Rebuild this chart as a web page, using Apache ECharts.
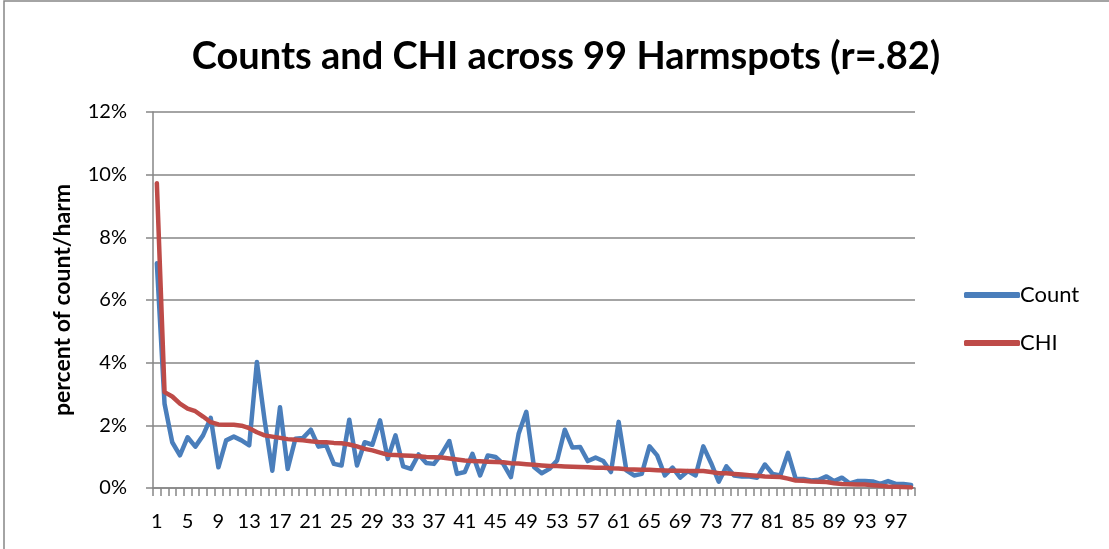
<!DOCTYPE html>
<html>
<head>
<meta charset="utf-8">
<script src="https://cdn.jsdelivr.net/npm/echarts@6/dist/echarts.min.js"></script>
<style>
  html, body { margin: 0; padding: 0; background: #fff; }
  #chart { width: 1109px; height: 549px; }
</style>
</head>
<body>
<div id="chart"></div>
<script>
// harmspot rank 1..99
var harmspots = []
for (var i = 1; i <= 99; i++) harmspots.push(String(i))

// percent of count per harmspot
var countPct = [
  7.17, 2.69, 1.46, 1.04, 1.62, 1.32, 1.68, 2.24, 0.66, 1.52,
  1.64, 1.52, 1.36, 4.02, 2.16, 0.55, 2.58, 0.61, 1.57, 1.6,
  1.86, 1.32, 1.36, 0.77, 0.72, 2.18, 0.72, 1.46, 1.38, 2.16,
  0.93, 1.68, 0.69, 0.61, 1.07, 0.8, 0.77, 1.09, 1.5, 0.45,
  0.51, 1.09, 0.4, 1.04, 0.99, 0.77, 0.35, 1.73, 2.43, 0.67,
  0.47, 0.61, 0.88, 1.86, 1.29, 1.31, 0.86, 0.97, 0.86, 0.51,
  2.11, 0.56, 0.4, 0.45, 1.33, 1.04, 0.4, 0.65, 0.33, 0.54,
  0.4, 1.33, 0.8, 0.2, 0.69, 0.4, 0.37, 0.37, 0.33, 0.75,
  0.45, 0.4, 1.12, 0.29, 0.29, 0.24, 0.26, 0.37, 0.22, 0.33,
  0.15, 0.22, 0.22, 0.21, 0.13, 0.22, 0.13, 0.13, 0.1
]

// percent of CHI (harm) per harmspot
var chiPct = [
  9.73, 3.06, 2.92, 2.69, 2.53, 2.45, 2.28, 2.1, 2.03, 2.02,
  2.02, 1.99, 1.91, 1.78, 1.68, 1.64, 1.6, 1.56, 1.54, 1.52,
  1.49, 1.47, 1.46, 1.44, 1.43, 1.39, 1.33, 1.25, 1.2, 1.13,
  1.06, 1.05, 1.04, 1.03, 1.01, 0.99, 0.98, 0.97, 0.94, 0.91,
  0.88, 0.86, 0.85, 0.84, 0.83, 0.82, 0.79, 0.78, 0.76, 0.74,
  0.72, 0.7, 0.7, 0.69, 0.68, 0.67, 0.66, 0.65, 0.65, 0.63,
  0.62, 0.6, 0.59, 0.58, 0.58, 0.57, 0.56, 0.55, 0.55, 0.54,
  0.54, 0.54, 0.51, 0.47, 0.47, 0.45, 0.43, 0.41, 0.39, 0.37,
  0.36, 0.35, 0.3, 0.24, 0.23, 0.21, 0.2, 0.19, 0.15, 0.13,
  0.12, 0.11, 0.11, 0.09, 0.07, 0.05, 0.04, 0.03, 0.02
]

var chart = echarts.init(document.getElementById('chart'))

chart.setOption({
  animation: false,
  textStyle: { fontFamily: 'Lato' },
  title: {
    text: 'Counts and CHI across 99 Harmspots (r=.82)',
    left: 561,
    top: 33,
    textAlign: 'center',
    textStyle: { fontFamily: 'Lato', fontWeight: 'bold', fontSize: 38, color: '#000' }
  },
  legend: {
    orient: 'vertical',
    left: 959,
    top: 279,
    itemGap: 26,
    itemWidth: 56,
    itemHeight: 6,
    icon: 'roundRect',
    textStyle: { fontFamily: 'Lato', fontSize: 22, color: '#000', padding: [0, 0, 0, -5] },
    data: ['Count', 'CHI']
  },
  grid: { left: 153, top: 112, right: 194, bottom: 61, containLabel: false },
  xAxis: {
    type: 'category',
    data: harmspots,
    boundaryGap: true,
    axisLine: { lineStyle: { color: '#868686', width: 1.5 } },
    axisTick: { show: true, interval: 0, length: 8, lineStyle: { color: '#868686', width: 1.5 } },
    axisLabel: { interval: 3, color: '#000', fontSize: 20, margin: 24 }
  },
  yAxis: {
    type: 'value',
    min: 0,
    max: 12,
    interval: 2,
    name: 'percent of count/harm',
    nameLocation: 'middle',
    nameGap: 79,
    nameTextStyle: { fontFamily: 'Lato', fontWeight: 'bold', fontSize: 23, color: '#000' },
    axisLine: { show: true, lineStyle: { color: '#868686', width: 1.5 } },
    axisTick: { show: true, length: 7, lineStyle: { color: '#868686', width: 1.5 } },
    axisLabel: { color: '#000', fontSize: 20, margin: 26, formatter: function (v) { return v + '%' } },
    splitLine: { lineStyle: { color: '#868686', width: 1.5 } }
  },
  series: [
    {
      name: 'Count',
      type: 'line',
      data: countPct,
      symbol: 'none',
      lineStyle: { color: '#4A7EBB', width: 4.5, cap: 'round', join: 'round' },
      itemStyle: { color: '#4A7EBB' }
    },
    {
      name: 'CHI',
      type: 'line',
      data: chiPct,
      symbol: 'none',
      lineStyle: { color: '#BE4B48', width: 4.5, cap: 'round', join: 'round' },
      itemStyle: { color: '#BE4B48' }
    }
  ],
  graphic: [
    {
      type: 'rect',
      shape: { x: 4, y: 1, width: 1200, height: 600 },
      style: { fill: 'none', stroke: '#868686', lineWidth: 1.5 },
      silent: true
    }
  ]
})
</script>
</body>
</html>
